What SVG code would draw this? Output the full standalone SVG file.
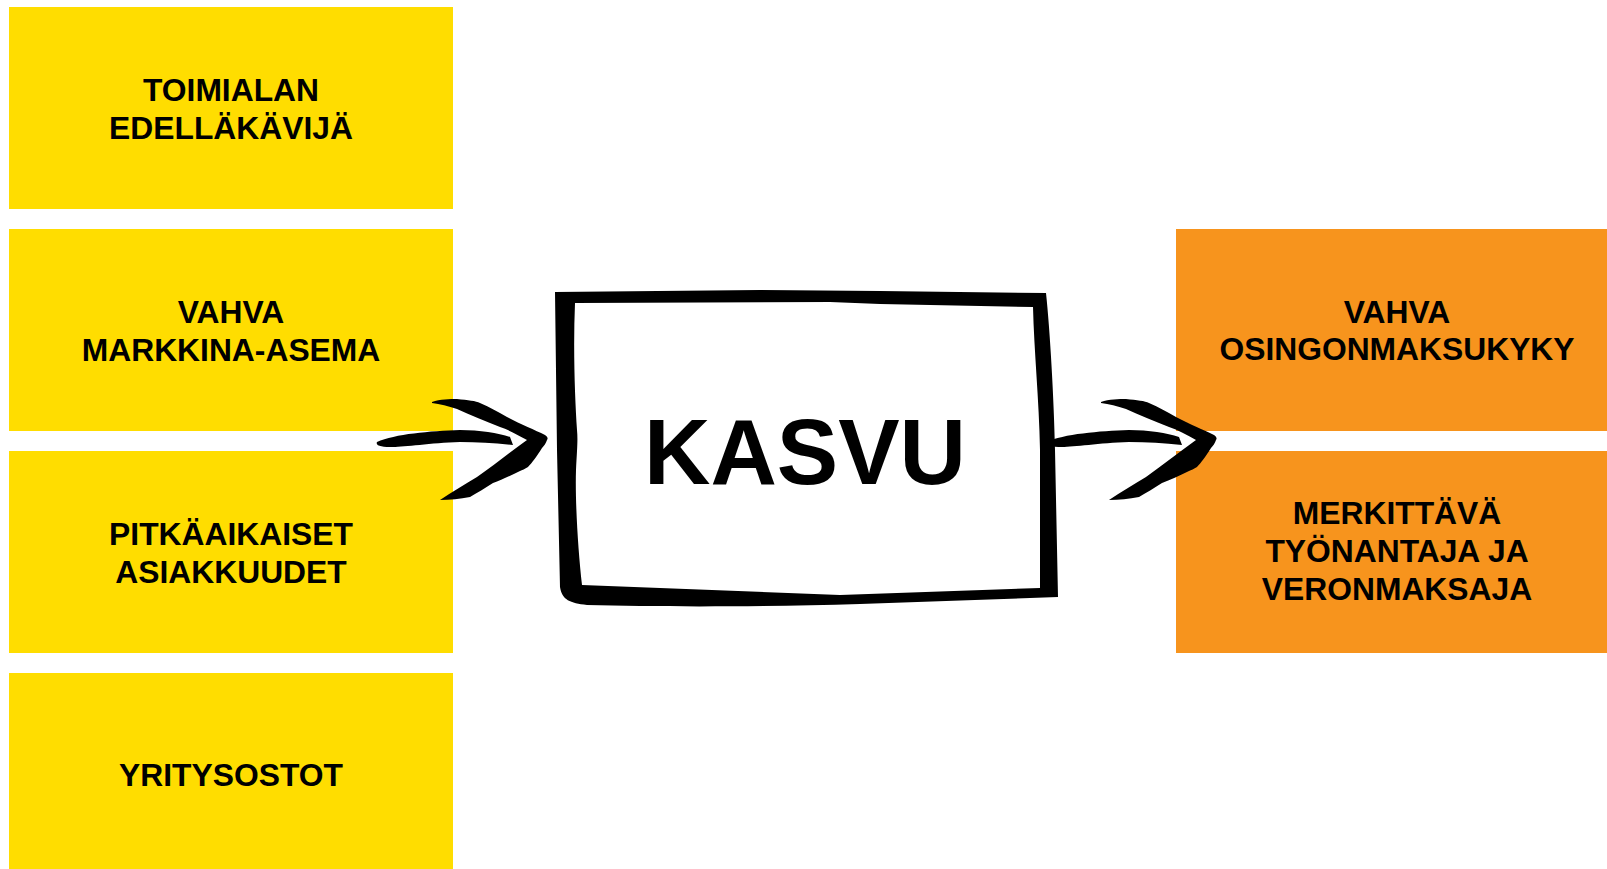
<svg xmlns="http://www.w3.org/2000/svg" width="1607" height="869" viewBox="0 0 1607 869">
<style>
.y{fill:#FFDD00}
.o{fill:#F7941D}
.t{font-family:"Liberation Sans",Arial,sans-serif;font-weight:bold;font-size:31.8px;fill:#000;text-anchor:middle}
.big{font-family:"Liberation Sans",Arial,sans-serif;font-weight:bold;font-size:92px;fill:#000;text-anchor:middle}
</style>
<defs>
<path id="arr" d="M377,442 C395,434 430,431 460,430 C480,430 498,433 510,437 L513,445 C495,443 478,442 460,442 C430,443 405,447 393,447 C383,447 375,446 377,442 Z
M432,402 C440,399 450,399 457,399 C468,400 476,401 480,403 C490,407 498,412 507,417 C520,424 535,430 545,435 C548,437 548,439 547,440 C546,443 544,446 542,448 C537,456 532,463 528,467 C525,469 522,470 520,471 C510,476 501,480 493,483 C485,488 477,493 470,497 C460,499 450,500 440,500 C452,492 465,484 477,477 C494,465 510,452 527,440 C518,435 509,430 500,427 C485,421 470,415 457,409 C448,406 440,404 432,403 Z"/>
</defs>
<g id="n1"><rect class="y" x="9" y="7" width="444" height="202"/><text class="t" x="231" y="101">TOIMIALAN</text><text class="t" x="231" y="138.5">EDELLÄKÄVIJÄ</text></g>
<g id="n2"><rect class="y" x="9" y="229" width="444" height="202"/><text class="t" x="231" y="323">VAHVA</text><text class="t" x="231" y="360.5">MARKKINA-ASEMA</text></g>
<g id="n3"><rect class="y" x="9" y="451" width="444" height="202"/><text class="t" x="231" y="545">PITKÄAIKAISET</text><text class="t" x="231" y="582.5">ASIAKKUUDET</text></g>
<g id="n4"><rect class="y" x="9" y="673" width="444" height="196"/><text class="t" x="231" y="785.5">YRITYSOSTOT</text></g>
<g id="n5"><rect class="o" x="1176" y="229" width="431" height="202"/><text class="t" x="1397" y="322.5">VAHVA</text><text class="t" x="1397" y="360">OSINGONMAKSUKYKY</text></g>
<g id="n6"><rect class="o" x="1176" y="451" width="431" height="202"/><text class="t" x="1397" y="524">MERKITTÄVÄ</text><text class="t" x="1397" y="562">TYÖNANTAJA JA</text><text class="t" x="1397" y="600">VERONMAKSAJA</text></g>
<g id="kasvu">
<path fill="#fff" d="M575,303 L830,302 L1033,307 L1040,450 L1040,588 L840,595 L582,585 L575,440 Z"/>
<path fill="#000" fill-rule="evenodd" d="M555,292 L760,290 L880,291 L1046,293 C1050,330 1054,400 1055,450 L1058,597 L860,604 C760,607 660,607 587,605 C570,603 562,600 560,587 L557,450 Z
M575,303 L830,302 L880,304 L1033,307 C1034,350 1039,400 1040,450 L1040,588 L840,595 L582,585 C578,550 575,500 576,470 C577,450 578,440 577,430 C575,400 573,350 575,303 Z"/>
<text class="big" x="805" y="484">KASVU</text>
</g>
<g id="connectors">
<use href="#arr"/>
<use href="#arr" transform="translate(669,0)"/>
</g>
</svg>
